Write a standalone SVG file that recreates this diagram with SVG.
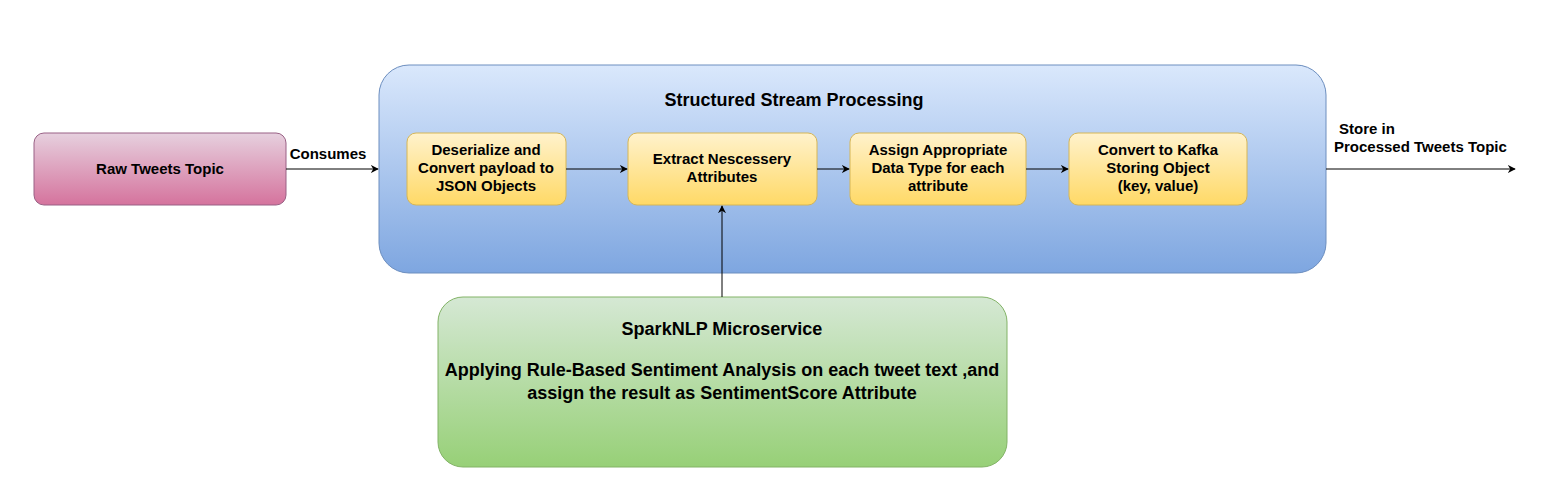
<svg xmlns="http://www.w3.org/2000/svg" width="1541" height="501" viewBox="0 0 1541 501">
<defs>
<linearGradient id="gPink" x1="0" y1="0" x2="0" y2="1"><stop offset="0" stop-color="#e6d0de"/><stop offset="1" stop-color="#d5739d"/></linearGradient>
<linearGradient id="gBlue" x1="0" y1="0" x2="0" y2="1"><stop offset="0" stop-color="#dae8fc"/><stop offset="1" stop-color="#7ea6e0"/></linearGradient>
<linearGradient id="gYellow" x1="0" y1="0" x2="0" y2="1"><stop offset="0" stop-color="#fff2cc"/><stop offset="1" stop-color="#ffd966"/></linearGradient>
<linearGradient id="gGreen" x1="0" y1="0" x2="0" y2="1"><stop offset="0" stop-color="#d5e8d4"/><stop offset="1" stop-color="#97d077"/></linearGradient>
<marker id="arr" viewBox="0 0 10 10" refX="9" refY="5" markerWidth="8" markerHeight="8" markerUnits="userSpaceOnUse" orient="auto"><path d="M0,0 L10,5 L0,10 L3,5 Z" fill="#000"/></marker>
</defs>
<style>
text{font-family:"Liberation Sans",Arial,sans-serif;font-weight:bold;fill:#000;text-anchor:middle}
.t13{font-size:15px}
.t16{font-size:18px}
.yl{fill:url(#gYellow);stroke:#d6b656;stroke-width:1}
.cn{stroke:#000;stroke-width:1;fill:none;marker-end:url(#arr)}
</style>
<rect width="1541" height="501" fill="#fff"/>
<g id="container">
<rect x="379" y="65" width="947" height="208" rx="30" fill="url(#gBlue)" stroke="#6c8ebf"/>
<text class="t16" x="794" y="106">Structured Stream Processing</text>
</g>
<g id="raw">
<rect x="34" y="133" width="252" height="72" rx="10" fill="url(#gPink)" stroke="#996185"/>
<text class="t13" x="160" y="174">Raw Tweets Topic</text>
</g>
<g id="box1">
<rect class="yl" x="407" y="133" width="159" height="72" rx="9"/>
<text class="t13" x="486" y="155">Deserialize and</text>
<text class="t13" x="486" y="173">Convert payload to</text>
<text class="t13" x="486" y="191">JSON Objects</text>
</g>
<g id="box2">
<rect class="yl" x="628" y="133" width="189" height="72" rx="9"/>
<text class="t13" x="722" y="164">Extract Nescessery</text>
<text class="t13" x="722" y="182">Attributes</text>
</g>
<g id="box3">
<rect class="yl" x="850" y="133" width="176" height="72" rx="9"/>
<text class="t13" x="938" y="155">Assign Appropriate</text>
<text class="t13" x="938" y="173">Data Type for each</text>
<text class="t13" x="938" y="191">attribute</text>
</g>
<g id="box4">
<rect class="yl" x="1069" y="133" width="178" height="72" rx="9"/>
<text class="t13" x="1158" y="155">Convert to Kafka</text>
<text class="t13" x="1158" y="173">Storing Object</text>
<text class="t13" x="1158" y="191">(key, value)</text>
</g>
<g id="spark">
<rect x="438" y="297" width="569" height="170" rx="25" fill="url(#gGreen)" stroke="#82b366"/>
<text class="t16" x="722" y="335">SparkNLP Microservice</text>
<text class="t16" x="722" y="376">Applying Rule-Based Sentiment Analysis on each tweet text ,and</text>
<text class="t16" x="722" y="399">assign the result as SentimentScore Attribute</text>
</g>
<g id="connectors">
<line class="cn" x1="286" y1="169" x2="378" y2="169"/>
<text class="t13" x="328" y="159">Consumes</text>
<line class="cn" x1="566" y1="169" x2="627" y2="169"/>
<line class="cn" x1="817" y1="169" x2="849" y2="169"/>
<line class="cn" x1="1026" y1="169" x2="1068" y2="169"/>
<line class="cn" x1="1326" y1="169" x2="1515" y2="169"/>
<text class="t13" x="1339" y="134" style="text-anchor:start">Store in</text>
<text class="t13" x="1334" y="152" style="text-anchor:start">Processed Tweets Topic</text>
<line class="cn" x1="722" y1="297" x2="722" y2="206"/>
</g>
</svg>
